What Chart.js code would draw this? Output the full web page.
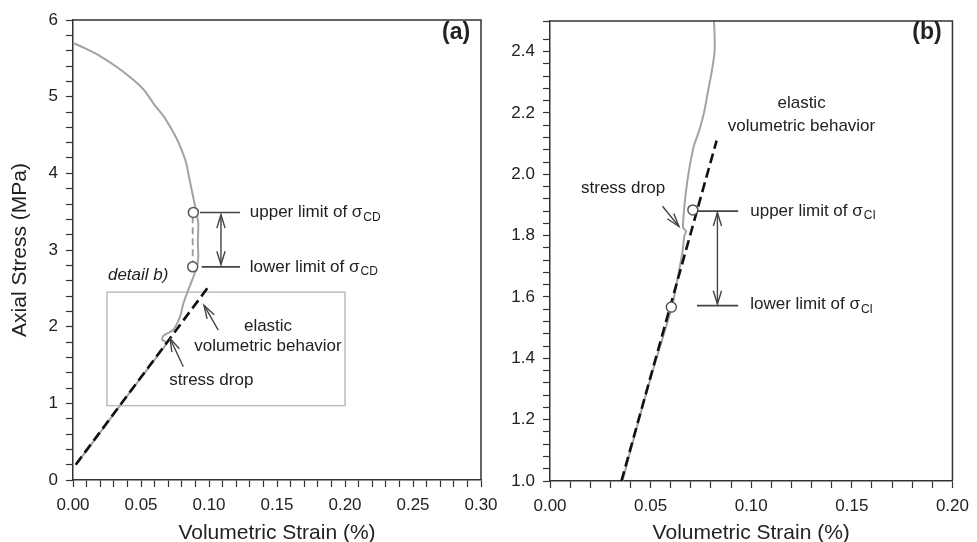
<!DOCTYPE html>
<html>
<head>
<meta charset="utf-8">
<script src="https://cdn.jsdelivr.net/npm/chart.js@4.4.0/dist/chart.umd.min.js"></script>
<style>
  body { margin: 0; background: #fff; width: 977px; height: 542px; overflow: hidden; position: relative; }
  canvas { position: absolute; top: 0; }
  #chartA { left: 0; }
  #chartB { left: 490px; }
</style>
</head>
<body>
<canvas id="chartA" width="515" height="542"></canvas>
<canvas id="chartB" width="487" height="542"></canvas>
<script>
// ---- panel (a) data ----
const strainA = [0.003, 0.02, 0.04, 0.055, 0.066, 0.069, 0.0655, 0.0665, 0.0738, 0.0787, 0.0811, 0.0848, 0.0885, 0.091, 0.0921, 0.0918, 0.0921, 0.0904, 0.0873, 0.0848, 0.083, 0.080, 0.076, 0.0713, 0.0665, 0.060, 0.053, 0.0443, 0.032, 0.0199, 0.009, 0.0];
const stressA = [0.22, 0.62, 1.1, 1.45, 1.71, 1.79, 1.83, 1.88, 1.96, 2.13, 2.30, 2.48, 2.65, 2.78, 2.91, 3.1, 3.35, 3.52, 3.78, 4.0, 4.15, 4.30, 4.46, 4.61, 4.75, 4.89, 5.07, 5.22, 5.39, 5.53, 5.63, 5.70];
const elasticStrainA = [0.002, 0.100];
const elasticStressA = [0.2, 2.53];
const limitStrainA = [0.0885, 0.088];
const limitStressA = [3.49, 2.78];
const xMajorA = [0, 0.05, 0.10, 0.15, 0.20, 0.25, 0.30];
const yMajorA = [0, 1, 2, 3, 4, 5, 6];

// ---- panel (b) data ----
const strainB = [0.036, 0.045, 0.052, 0.0608, 0.0632, 0.0657, 0.0668, 0.0676, 0.0662, 0.0662, 0.0675, 0.069, 0.0714, 0.074, 0.0765, 0.0785, 0.0805, 0.0818, 0.0818, 0.0815];
const stressB = [1.0, 1.22, 1.38, 1.573, 1.654, 1.741, 1.80, 1.815, 1.825, 1.85, 1.94, 2.01, 2.09, 2.14, 2.20, 2.27, 2.34, 2.40, 2.45, 2.5];
const elasticStrainB = [0.0355, 0.0828];
const elasticStressB = [1.0, 2.11];
const limitStrainB = [0.071, 0.0603];
const limitStressB = [1.884, 1.567];
const xMajorB = [0, 0.05, 0.10, 0.15, 0.20];
const yMajorB = [1.0, 1.2, 1.4, 1.6, 1.8, 2.0, 2.2, 2.4];

const FONT = '"Liberation Sans", Arial, sans-serif';
const INK = '#222';

function pts(xs, ys) {
  return xs.map((x, i) => ({ x: x, y: ys[i] }));
}

function isMajor(v, list) {
  return list.some(m => Math.abs(v - m) < 1e-6);
}

// annotations in data units
const notesA = [
  { type: 'box', x1: 0.025, y1: 0.97, x2: 0.200, y2: 2.45 },
  { type: 'line', x1: 0.0934, y1: 3.49, x2: 0.1228, y2: 3.49 },
  { type: 'line', x1: 0.0946, y1: 2.78, x2: 0.1228, y2: 2.78 },
  { type: 'arrow', x1: 0.1088, y1: 3.13, x2: 0.1088, y2: 3.46, both: true, y0: 2.81 },
  { type: 'arrow', x1: 0.1068, y1: 1.956, x2: 0.0963, y2: 2.28 },
  { type: 'arrow', x1: 0.0811, y1: 1.478, x2: 0.0713, y2: 1.848 },
  { type: 'text', x: 0.130, y: 3.49, text: 'upper limit of σ', sub: 'CD', align: 'left' },
  { type: 'text', x: 0.130, y: 2.78, text: 'lower limit of σ', sub: 'CD', align: 'left' },
  { type: 'text', x: 0.0257, y: 2.67, text: 'detail b)', align: 'left', style: 'italic ' },
  { type: 'text', x: 0.1434, y: 2.0, text: 'elastic', align: 'center' },
  { type: 'text', x: 0.1434, y: 1.739, text: 'volumetric behavior', align: 'center' },
  { type: 'text', x: 0.1017, y: 1.295, text: 'stress drop', align: 'center' },
  { type: 'text', x: 0.292, y: 5.83, text: '(a)', align: 'right', style: 'bold ', size: 23 }
];

const notesB = [
  { type: 'line', x1: 0.073, y1: 1.88, x2: 0.0935, y2: 1.88 },
  { type: 'line', x1: 0.073, y1: 1.572, x2: 0.0935, y2: 1.572 },
  { type: 'arrow', x1: 0.0832, y1: 1.72, x2: 0.0832, y2: 1.875, both: true, y0: 1.577 },
  { type: 'arrow', x1: 0.0559, y1: 1.896, x2: 0.0641, y2: 1.83 },
  { type: 'text', x: 0.0995, y: 1.88, text: 'upper limit of σ', sub: 'CI', align: 'left' },
  { type: 'text', x: 0.0995, y: 1.575, text: 'lower limit of σ', sub: 'CI', align: 'left' },
  { type: 'text', x: 0.125, y: 2.23, text: 'elastic', align: 'center' },
  { type: 'text', x: 0.125, y: 2.158, text: 'volumetric behavior', align: 'center' },
  { type: 'text', x: 0.0363, y: 1.953, text: 'stress drop', align: 'center' },
  { type: 'text', x: 0.1946, y: 2.461, text: '(b)', align: 'right', style: 'bold ', size: 23 }
];

function arrowHead(ctx, x1, y1, x2, y2) {
  const a = Math.atan2(y2 - y1, x2 - x1);
  const len = 14, spread = 0.3;
  ctx.beginPath();
  ctx.moveTo(x2 - len * Math.cos(a - spread), y2 - len * Math.sin(a - spread));
  ctx.lineTo(x2, y2);
  ctx.lineTo(x2 - len * Math.cos(a + spread), y2 - len * Math.sin(a + spread));
  ctx.stroke();
}

const notesPlugin = {
  id: 'notes',
  beforeDatasetsDraw(chart) {
    const ctx = chart.ctx, xs = chart.scales.x, ys = chart.scales.y;
    (chart.options.plugins.notes.items || []).filter(n => n.type === 'box').forEach(n => {
      ctx.save();
      ctx.strokeStyle = '#bdbdbd';
      ctx.lineWidth = 1.5;
      const l = xs.getPixelForValue(n.x1), r = xs.getPixelForValue(n.x2);
      const t = ys.getPixelForValue(n.y2), b = ys.getPixelForValue(n.y1);
      ctx.strokeRect(l, t, r - l, b - t);
      ctx.restore();
    });
  },
  afterDatasetsDraw(chart) {
    const ctx = chart.ctx, xs = chart.scales.x, ys = chart.scales.y;
    const area = chart.chartArea;
    // frame on top and right
    ctx.save();
    ctx.strokeStyle = '#333';
    ctx.lineWidth = 1.5;
    ctx.beginPath();
    ctx.moveTo(area.left, area.top);
    ctx.lineTo(area.right, area.top);
    ctx.lineTo(area.right, area.bottom);
    ctx.stroke();
    ctx.restore();

    (chart.options.plugins.notes.items || []).forEach(n => {
      ctx.save();
      ctx.strokeStyle = '#444';
      ctx.fillStyle = INK;
      if (n.type === 'line') {
        ctx.lineWidth = 1.6;
        ctx.beginPath();
        ctx.moveTo(xs.getPixelForValue(n.x1), ys.getPixelForValue(n.y1));
        ctx.lineTo(xs.getPixelForValue(n.x2), ys.getPixelForValue(n.y2));
        ctx.stroke();
      } else if (n.type === 'arrow') {
        ctx.lineWidth = 1.4;
        const x1 = xs.getPixelForValue(n.x1), y1 = ys.getPixelForValue(n.y1);
        const x2 = xs.getPixelForValue(n.x2), y2 = ys.getPixelForValue(n.y2);
        if (n.both) {
          const y0 = ys.getPixelForValue(n.y0);
          ctx.beginPath();
          ctx.moveTo(x1, y0);
          ctx.lineTo(x2, y2);
          ctx.stroke();
          arrowHead(ctx, x1, y1, x2, y2);
          arrowHead(ctx, x1, y1, x1, y0);
        } else {
          ctx.beginPath();
          ctx.moveTo(x1, y1);
          ctx.lineTo(x2, y2);
          ctx.stroke();
          arrowHead(ctx, x1, y1, x2, y2);
        }
      } else if (n.type === 'text') {
        const size = n.size || 17;
        ctx.font = (n.style || '') + size + 'px ' + FONT;
        ctx.textAlign = n.align;
        ctx.textBaseline = 'middle';
        const px = xs.getPixelForValue(n.x), py = ys.getPixelForValue(n.y);
        ctx.fillText(n.text, px, py);
        if (n.sub) {
          const w = ctx.measureText(n.text).width;
          ctx.font = '12px ' + FONT;
          ctx.textAlign = 'left';
          ctx.fillText(n.sub, px + w + 1, py + 5);
        }
      }
      ctx.restore();
    });
  }
};

function axisX(min, max, majors, height, title) {
  return {
    type: 'linear', min: min, max: max,
    afterFit(scale) { scale.height = height; },
    border: { display: true, color: '#333', width: 1.5 },
    grid: { display: true, drawOnChartArea: false, drawTicks: true, tickLength: 7, color: '#333', tickWidth: 1.2 },
    ticks: {
      stepSize: 0.01, autoSkip: false, maxRotation: 0, minRotation: 0, padding: 8,
      color: INK, font: { family: FONT, size: 17 },
      callback: v => isMajor(v, majors) ? v.toFixed(2) : ''
    },
    title: { display: true, text: title, color: INK, font: { family: FONT, size: 21, lineHeight: 1 }, padding: { top: 0, bottom: -2 } }
  };
}

function axisY(min, max, step, majors, width, digits, title) {
  return {
    type: 'linear', min: min, max: max,
    afterFit(scale) { scale.width = width; },
    border: { display: true, color: '#333', width: 1.5 },
    grid: { display: true, drawOnChartArea: false, drawTicks: true, tickLength: 7, color: '#333', tickWidth: 1.2 },
    ticks: {
      stepSize: step, autoSkip: false, padding: 8,
      color: INK, font: { family: FONT, size: 17 },
      callback: v => isMajor(v, majors) ? v.toFixed(digits) : ''
    },
    title: { display: !!title, text: title || '', color: INK, font: { family: FONT, size: 21, lineHeight: 1 }, padding: { top: 10, bottom: 0 } }
  };
}

function makeDatasets(curveX, curveY, elX, elY, limX, limY, connector) {
  const sets = [
    { data: pts(limX, limY), showLine: false, pointRadius: 5, pointBorderWidth: 1.5,
      pointBackgroundColor: '#fff', pointBorderColor: '#555', order: 0 },
    { data: pts(elX, elY), showLine: true, borderColor: '#111', borderWidth: 2.6,
      borderDash: [10, 5], pointRadius: 0, order: 1 },
    { data: pts(curveX, curveY), showLine: true, borderColor: '#a3a3a3', borderWidth: 2,
      pointRadius: 0, tension: 0.25, order: 3 }
  ];
  if (connector) {
    sets.push({ data: pts([limX[1], limX[1]], [limY[0] - 0.05, limY[1] + 0.05]), showLine: true,
      borderColor: '#9a9a9a', borderWidth: 1.8, borderDash: [7, 4], pointRadius: 0, order: 2 });
  }
  return sets;
}

function baseOptions(padding, scales, notes) {
  return {
    responsive: false,
    animation: false,
    layout: { padding: padding },
    scales: scales,
    plugins: { legend: { display: false }, tooltip: { enabled: false }, notes: { items: notes } }
  };
}

new Chart(document.getElementById('chartA'), {
  type: 'scatter',
  data: { datasets: makeDatasets(strainA, stressA, elasticStrainA, elasticStressA, limitStrainA, limitStressA, true) },
  options: baseOptions({ left: 0, right: 34, top: 20, bottom: 0 }, {
    x: axisX(0, 0.30, xMajorA, 62, 'Volumetric Strain (%)'),
    y: axisY(0, 6, 0.2, yMajorA, 73, 0, 'Axial Stress (MPa)')
  }, notesA),
  plugins: [notesPlugin]
});

new Chart(document.getElementById('chartB'), {
  type: 'scatter',
  data: { datasets: makeDatasets(strainB, stressB, elasticStrainB, elasticStressB, limitStrainB, limitStressB, false) },
  options: baseOptions({ left: 0, right: 18, top: 21, bottom: 0 }, {
    x: axisX(0, 0.20, xMajorB, 61, 'Volumetric Strain (%)'),
    y: axisY(1.0, 2.5, 0.04, yMajorB, 60, 1, null)
  }, notesB),
  plugins: [notesPlugin]
});
</script>
</body>
</html>
